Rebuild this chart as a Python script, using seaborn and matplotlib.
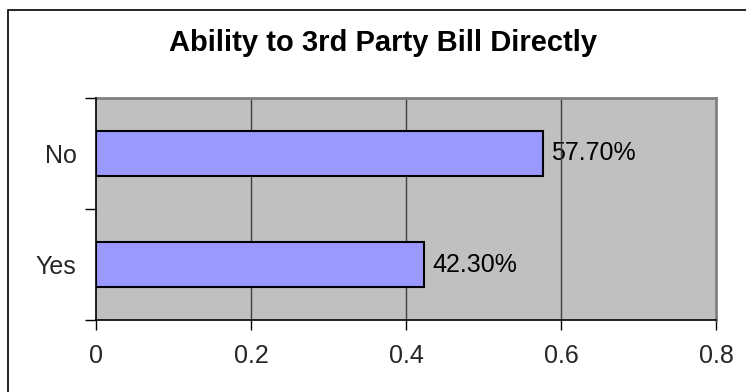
import matplotlib
matplotlib.use("Agg")
import matplotlib.pyplot as plt
import seaborn as sns
import pandas as pd
from matplotlib.patches import Rectangle

# Chart data
categories = ["No", "Yes"]
shares = [0.577, 0.423]
value_labels = ["57.70%", "42.30%"]
x_ticks = [0, 0.2, 0.4, 0.6, 0.8]
x_tick_labels = ["0", "0.2", "0.4", "0.6", "0.8"]
title = "Ability to 3rd Party Bill Directly"

sns.set_theme(style="white")
plt.rcParams["font.family"] = ["Liberation Sans", "DejaVu Sans"]

df = pd.DataFrame({"answer": categories, "share": shares})

fig = plt.figure(figsize=(7.46, 3.92), dpi=100)
fig.patch.set_facecolor("white")

# Outer chart frame (left and top edges visible)
fig.patches.append(Rectangle((8 / 746, -0.1), 1.2, (392 - 10) / 392 + 0.1,
                             transform=fig.transFigure, fill=False,
                             edgecolor="black", linewidth=1.2))

ax = fig.add_axes([96 / 746, 1 - 320 / 392, (716 - 96) / 746, (320 - 98) / 392])
ax.set_facecolor("#C0C0C0")

sns.barplot(data=df, x="share", y="answer", order=categories, orient="h",
            width=0.4, color="#9999FF", saturation=1, edgecolor="black",
            linewidth=1.5, ax=ax, zorder=3)

ax.set_xlim(0, 0.8)
ax.set_ylim(1.5, -0.5)
ax.set_xticks(x_ticks)
ax.set_xticklabels(x_tick_labels, fontsize=18)
ax.set_yticks([-0.5, 0.5, 1.5], minor=False)
ax.set_yticklabels([])
ax.set_yticks([0, 1], minor=True)
ax.set_yticklabels(categories, minor=True, fontsize=18)
ax.tick_params(axis="y", which="minor", length=0, pad=14)
ax.tick_params(axis="y", which="major", length=8, width=1, color="black",
               direction="out", left=True)
ax.tick_params(axis="x", length=7, width=1, color="black", direction="out",
               pad=10, bottom=True)
ax.set_xlabel("")
ax.set_ylabel("")

for x in x_ticks[1:-1]:
    ax.axvline(x, color="#404040", linewidth=1, zorder=1)

for spine in ["left", "bottom"]:
    ax.spines[spine].set_color("black")
    ax.spines[spine].set_linewidth(1.2)
    ax.spines[spine].set_zorder(4)
for spine in ["top", "right"]:
    ax.spines[spine].set_color("#808080")
    ax.spines[spine].set_linewidth(2)

for i, (v, lab) in enumerate(zip(shares, value_labels)):
    ax.annotate(lab, xy=(v, i), xytext=(6, 0), textcoords="offset points",
                va="center", ha="left", fontsize=18, color="black", zorder=0)

fig.text(0.513, 1 - 43 / 392, title, ha="center", va="center",
         fontsize=21, fontweight="bold", color="black")

fig.savefig("out.png", dpi=100)
